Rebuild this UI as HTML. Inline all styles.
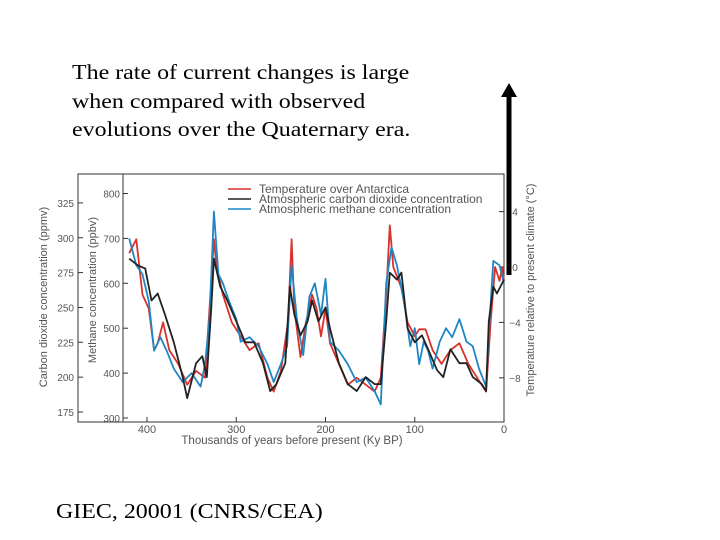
<!DOCTYPE html>
<html><head><meta charset="utf-8"><style>
body{margin:0;background:#fff;width:720px;height:540px;overflow:hidden;position:relative;font-family:"Liberation Serif",serif}
.t{position:absolute;font-size:24px;color:#000;line-height:28.5px;white-space:nowrap}
</style></head><body>
<div class="t" style="left:72px;top:58px;font-size:21px;transform-origin:0 0;transform:scaleX(1.14)">The rate of current changes is large<br>when compared with observed<br>evolutions over the Quaternary era.</div>
<div class="t" style="left:56px;top:497px;font-size:21px;transform-origin:0 0;transform:scaleX(1.14)">GIEC, 20001 (CNRS/CEA)</div>
<svg id="c" width="720" height="540" style="position:absolute;left:0;top:0" font-family="Liberation Sans, sans-serif"></svg>
<script>
const tempK=[420,412,405,398,392,388,382,375,365,355,345,335,330,325,322,315,305,295,285,275,265,258,250,242,238,235,228,222,215,210,205,200,195,185,175,165,155,145,138,132,128,124,115,108,100,95,88,80,70,60,50,40,30,20,15,10,5,2,0];
const tempV=[1,2,-2,-3,-6,-5.5,-4,-6,-7,-8.5,-7.5,-8,-3,2,0,-2,-4,-5,-6,-5.5,-8,-9,-7.5,-4,2,-3,-6.5,-4,-2,-3,-5,-3,-5.5,-7,-8.5,-8,-8.5,-9,-8,-2,3,0,-1.5,-4,-5,-4.5,-4.5,-6,-7,-6,-5.5,-7,-8,-9,-4,0,-1,0,-1];
const co2K=[420,410,402,395,388,380,370,360,355,345,338,333,328,325,318,310,300,290,280,270,262,255,245,240,235,228,220,215,208,200,195,185,175,165,155,145,138,132,128,120,115,108,100,92,85,75,68,60,50,42,35,25,20,17,12,8,0];
const co2V=[285,280,278,255,260,245,225,200,185,210,215,200,250,285,265,255,240,225,225,210,190,195,210,265,245,230,240,255,240,250,235,210,195,190,200,195,195,240,275,270,275,235,225,230,220,205,200,220,210,210,200,195,190,240,265,260,270];
const ch4K=[420,412,405,398,392,385,378,370,360,350,340,335,330,325,320,315,308,300,295,285,275,265,258,250,243,238,232,225,218,212,205,200,195,185,175,165,155,145,138,132,126,120,112,105,100,95,90,85,80,72,65,58,50,42,35,28,20,16,12,5,0];
const ch4V=[700,640,620,560,450,480,450,410,380,400,370,420,520,760,620,600,560,520,470,480,460,420,380,420,460,640,520,440,570,600,530,610,470,450,420,380,390,360,330,600,680,640,560,460,500,420,470,450,410,470,500,480,520,470,460,410,370,520,650,640,600];
const xTicks=[400,300,200,100,0];
const co2Ticks=[175,200,225,250,275,300,325];
const ch4Ticks=[300,400,500,600,700,800];
const tTicks=[4,0,-4,-8];
const X=k=>504-k*0.8925, YC=v=>412-(v-175)*1.394, YM=v=>418-(v-300)*0.449, YT=v=>267-v*13.85;
const s=document.getElementById('c'),NS='http://www.w3.org/2000/svg';
function el(t,a,p){const e=document.createElementNS(NS,t);for(const k in a)e.setAttribute(k,a[k]);(p||s).appendChild(e);return e;}
function txt(x,y,str,a){const e=el('text',Object.assign({x:x,y:y,'font-size':11,fill:'#555'},a||{}));e.textContent=str;return e;}
let e;
e=el('rect',{x:78,y:174,width:426,height:248,fill:'none',stroke:'#333','stroke-width':1});

e=el('line',{x1:123,y1:174,x2:123,y2:422,stroke:'#333'});

xTicks.forEach(k=>{el('line',{x1:X(k),y1:422,x2:X(k),y2:417,stroke:'#333'});e=txt(X(k),433,String(k),{'text-anchor':'middle'});});
co2Ticks.forEach(v=>{el('line',{x1:78,y1:YC(v),x2:83,y2:YC(v),stroke:'#333'});e=txt(74,YC(v)+4,String(v),{'text-anchor':'end','font-size':10});});
ch4Ticks.forEach(v=>{el('line',{x1:123,y1:YM(v),x2:128,y2:YM(v),stroke:'#333'});e=txt(120,YM(v)+4,String(v),{'text-anchor':'end','font-size':10});});
tTicks.forEach(v=>{el('line',{x1:499,y1:YT(v),x2:504,y2:YT(v),stroke:'#333'});e=txt(515,YT(v)+4,v<0?'\u2212'+(-v):String(v),{'text-anchor':'middle','font-size':10});});
e=txt(292,444,'Thousands of years before present (Ky BP)',{'text-anchor':'middle','font-size':11.5});
e=txt(0,0,'Carbon dioxide concentration (ppmv)',{'text-anchor':'middle','font-size':11,transform:'translate(47,297) rotate(-90)'});
e=txt(0,0,'Methane concentration (ppbv)',{'text-anchor':'middle','font-size':11,transform:'translate(96,290) rotate(-90)'});
e=txt(0,0,'Temperature relative to present climate (°C)',{'text-anchor':'middle','font-size':11,transform:'translate(534,290) rotate(-90)'});
function line(K,V,f,c,n){const d=K.map((k,i)=>(i?'L':'M')+X(k).toFixed(1)+','+f(V[i]).toFixed(1)).join('');const p=el('path',{d:d,fill:'none',stroke:c,'stroke-width':1.8,'stroke-linejoin':'round'});}
line(tempK,tempV,YT,'#d9312b','temperature-line');
line(ch4K,ch4V,YM,'#1f86c4','methane-line');
line(co2K,co2V,YC,'#222','co2-line');
[['Temperature over Antarctica','#d9312b'],['Atmospheric carbon dioxide concentration','#222'],['Atmospheric methane concentration','#1f86c4']].forEach((l,i)=>{const y=189+i*10;el('line',{x1:228,y1:y,x2:251,y2:y,stroke:l[1],'stroke-width':1.5});e=txt(259,y+4,l[0],{'font-size':12});});
e=el('rect',{x:506.5,y:95,width:5,height:180,fill:'#000'});
e=el('polygon',{points:'509,83 501,97 517,97',fill:'#000'});
</script>
</body></html>
